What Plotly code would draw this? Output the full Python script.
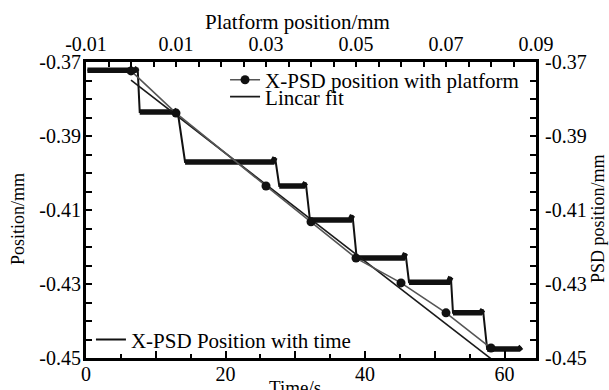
import plotly.graph_objects as go

# ---- data ----
# step curve: X-PSD position vs time (plateaus)
level_t_start = [0.2, 7.7, 14.2, 27.7, 32.1, 38.8, 46.3, 52.6, 57.5]
level_t_end = [7.4, 13.1, 27.1, 31.5, 38.2, 45.8, 52.3, 56.9, 62.4]
level_y = [-0.3722, -0.3835, -0.3970, -0.4035, -0.4127, -0.4230, -0.4295, -0.4378, -0.4476]
level_peak = [-0.3716, -0.3829, -0.3958, -0.4026, -0.4114, -0.4217, -0.4281, -0.4369, -0.4470]

# X-PSD position with platform (markers)
platform_pos = [0.0, 0.01, 0.03, 0.04, 0.05, 0.06, 0.07, 0.08]
psd_pos = [-0.3724, -0.3838, -0.4035, -0.4132, -0.4230, -0.4297, -0.4378, -0.4473]

# linear fit end points
fit_x = [0.0, 0.08]
fit_y = [-0.3749, -0.4502]

# axes
time_ticks = [0, 10, 20, 30, 40, 50, 60]
time_ticktext = ["0", "", "20", "", "40", "", "60"]
pos_ticks = [-0.37, -0.39, -0.41, -0.43, -0.45]
pos_ticktext = ["-0.37", "-0.39", "-0.41", "-0.43", "-0.45"]
plat_ticks = [-0.01, 0.01, 0.03, 0.05, 0.07, 0.09]
plat_ticktext = ["-0.01", "0.01", "0.03", "0.05", "0.07", "0.09"]

FONT = "Liberation Serif"

# build step path
step_t, step_y = [], []
plat_t, plat_y = [], []
for i in range(len(level_y)):
    ts, te, yv, pk = level_t_start[i], level_t_end[i], level_y[i], level_peak[i]
    step_t += [ts, te - 0.35, te]
    step_y += [yv, yv, pk]
    plat_t += [ts, te - 0.35, te, None]
    plat_y += [yv, yv, pk, None]

fig = go.Figure()

fig.add_trace(go.Scatter(
    x=plat_t, y=plat_y, mode="lines", line=dict(color="#111111", width=5.5),
    showlegend=False, hoverinfo="skip", xaxis="x", yaxis="y"))
fig.add_trace(go.Scatter(
    x=step_t, y=step_y, mode="lines", line=dict(color="#111111", width=2),
    name="X-PSD Position with time", legend="legend2", xaxis="x", yaxis="y"))

fig.add_trace(go.Scatter(
    x=fit_x, y=fit_y, mode="lines", line=dict(color="#1a1a1a", width=1.6),
    name="Lincar fit", legend="legend3", xaxis="x2", yaxis="y2"))
fig.add_trace(go.Scatter(
    x=platform_pos, y=psd_pos, mode="lines+markers",
    line=dict(color="#555555", width=1.6),
    marker=dict(color="#111111", size=9),
    name="X-PSD position with platform", legend="legend", xaxis="x2", yaxis="y2"))

axis_common = dict(showline=True, linewidth=3, linecolor="black", showgrid=False,
                   zeroline=False, ticks="inside", tickcolor="black", tickwidth=2,
                   automargin=False,
                   tickfont=dict(family=FONT, size=20, color="black"))

fig.update_layout(
    width=609, height=390,
    margin=dict(l=86, r=73, t=62, b=32),
    paper_bgcolor="white", plot_bgcolor="white",
    font=dict(family=FONT, size=20, color="black"),
    xaxis=dict(range=[0, 64.5], tickvals=time_ticks, ticktext=time_ticktext,
               ticklen=7, ticklabelstandoff=-4,
               minor=dict(dtick=5, tick0=0, ticklen=4, ticks="inside",
                          tickcolor="black", tickwidth=2),
               anchor="y", side="bottom", **axis_common),
    yaxis=dict(range=[-0.45, -0.37], tickvals=pos_ticks, ticktext=pos_ticktext,
               ticklen=6, ticklabelstandoff=-2,
               minor=dict(dtick=0.005, tick0=-0.45, ticklen=6, ticks="inside",
                          tickcolor="black", tickwidth=2),
               anchor="x", side="left", **axis_common),
    xaxis2=dict(range=[-0.01, 0.09], tickvals=plat_ticks, ticktext=plat_ticktext,
                ticklen=5,
                minor=dict(dtick=0.005, tick0=-0.01, ticklen=5, ticks="inside",
                           tickcolor="black", tickwidth=2),
                overlaying="x", anchor="y", side="top", **axis_common),
    yaxis2=dict(range=[-0.45, -0.37], tickvals=pos_ticks, ticktext=pos_ticktext,
                ticklen=6, ticklabelstandoff=2,
                minor=dict(dtick=0.005, tick0=-0.45, ticklen=6, ticks="inside",
                           tickcolor="black", tickwidth=2),
                overlaying="y", anchor="x", side="right", **axis_common),
    legend=dict(x=0.309, y=0.939, xanchor="left", yanchor="middle",
                bgcolor="rgba(0,0,0,0)", font=dict(family=FONT, size=21)),
    legend3=dict(x=0.309, y=0.882, xanchor="left", yanchor="middle",
                 bgcolor="rgba(0,0,0,0)", font=dict(family=FONT, size=21)),
    legend2=dict(x=0.011, y=0.061, xanchor="left", yanchor="middle",
                 bgcolor="rgba(0,0,0,0)", font=dict(family=FONT, size=21)),
    annotations=[
        dict(text="Platform position/mm", x=0.469, y=1.135, xref="paper", yref="paper",
             xanchor="center", yanchor="middle",
             showarrow=False, font=dict(family=FONT, size=21)),
        dict(text="Position/mm", x=-0.151, y=0.47, xref="paper", yref="paper",
             xanchor="center", yanchor="middle",
             showarrow=False, textangle=-90, font=dict(family=FONT, size=18)),
        dict(text="PSD position/mm", x=1.138, y=0.47, xref="paper", yref="paper",
             xanchor="center", yanchor="middle",
             showarrow=False, textangle=-90, font=dict(family=FONT, size=18)),
        dict(text="Time/s", x=0.465, y=-0.101, xref="paper", yref="paper",
             xanchor="center", yanchor="middle",
             showarrow=False, font=dict(family=FONT, size=19)),
    ],
)

fig.write_html("out.html")
